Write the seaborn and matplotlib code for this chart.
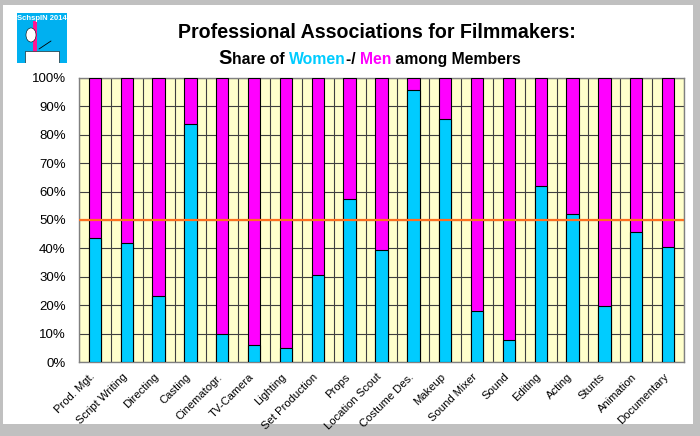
import numpy as np
import pandas as pd
import matplotlib
matplotlib.use("Agg")
import matplotlib.pyplot as plt
import matplotlib.transforms as mtransforms
from matplotlib.patches import Rectangle, Ellipse
import seaborn as sns

# share of women among members (%)
categories = ["Prod. Mgt.", "Script Writing", "Directing", "Casting", "Cinematogr.",
              "TV-Camera", "Lighting", "Set Production", "Props", "Location Scout",
              "Costume Des.", "Makeup", "Sound Mixer", "Sound", "Editing",
              "Acting", "Stunts", "Animation", "Documentary"]
women = [43.5, 41.8, 23.2, 83.9, 10.0, 6.1, 5.1, 30.7, 57.3, 39.5,
         95.6, 85.5, 18.0, 7.9, 61.9, 52.1, 19.6, 45.9, 40.6]
men = [100 - w for w in women]
ytick_values = list(range(0, 101, 10))
ytick_labels = [f"{v}%" for v in ytick_values]

df = pd.DataFrame({"job": categories, "women": women, "men": men})
df["total"] = df["women"] + df["men"]

sns.set_style("white")
plt.rcParams["font.family"] = ["Liberation Sans", "DejaVu Sans"]
plt.rcParams["text.color"] = "black"
plt.rcParams["xtick.color"] = "black"
plt.rcParams["ytick.color"] = "black"

W, H = 700, 436
fig = plt.figure(figsize=(7, 4.36), dpi=100, facecolor="#c0c0c0")

# white panel
fig.patches.append(Rectangle((3 / W, 12 / H), 690 / W, 419 / H, transform=fig.transFigure,
                             facecolor="white", edgecolor="none", zorder=-10))

ax = fig.add_axes([79 / W, 74 / H, 605 / W, 284 / H])
ax.set_facecolor("#ffffcc")

blue = "#00ccff"
pink = "#ff00ff"
sns.barplot(data=df, x="job", y="total", color=pink, width=0.39, saturation=1,
            edgecolor="black", linewidth=0.8, ax=ax, zorder=3)
sns.barplot(data=df, x="job", y="women", color=blue, width=0.39, saturation=1,
            edgecolor="black", linewidth=0.8, ax=ax, zorder=4)

ax.axhline(50, color="#ff7020", linewidth=1.6, zorder=5)

n = len(categories)
ax.set_xlim(-0.5, n - 0.5)
ax.set_ylim(0, 100)
ax.set_xlabel("")
ax.set_ylabel("")

ax.set_yticks(ytick_values)
ax.set_yticklabels(ytick_labels, fontsize=9.5)
ax.set_xticks(range(n))
ax.set_xticks(np.arange(-0.5, n, 1), minor=True)
ax.set_xticklabels(categories, fontsize=8.1, rotation=45, ha="right", va="top",
                   rotation_mode="anchor")
ax.tick_params(axis="x", which="major", length=0, pad=7)
ax.tick_params(axis="x", which="minor", length=4, width=0.8, color="#555555", direction="out")
ax.tick_params(axis="y", length=4, width=0.8, color="#555555", direction="out", pad=5.5)
offset = mtransforms.ScaledTranslation(-5 / 100, 0, fig.dpi_scale_trans)
for lab in ax.get_xticklabels():
    lab.set_transform(lab.get_transform() + offset)

ax.grid(True, axis="y", color="#404040", linewidth=0.8, zorder=1)
ax.grid(True, axis="x", which="minor", color="#404040", linewidth=0.8, zorder=1)
ax.grid(False, axis="x", which="major")
ax.set_axisbelow(True)
for s in ax.spines.values():
    s.set_color("#808080")
    s.set_linewidth(1)
    s.set_visible(True)

# title
fig.text(377 / W, 1 - 32 / H, "Professional Associations for Filmmakers:",
         ha="center", va="center", fontsize=14.1, fontweight="bold", color="black")

# subtitle in colored pieces
parts = [("S", 14.5, "black"), ("hare of ", 11.3, "black"), ("Women", 11.3, blue),
         ("-/ ", 11.3, "black"), ("Men", 11.3, pink), (" among Members", 11.3, "black")]
texts = []
for s, fs, c in parts:
    texts.append(fig.text(0, 1 - 64 / H, s, ha="left", va="baseline", fontsize=fs,
                          fontweight="bold", color=c))
fig.canvas.draw()
renderer = fig.canvas.get_renderer()
widths = [t.get_window_extent(renderer).width for t in texts]
x = 370 - sum(widths) / 2
for t, w in zip(texts, widths):
    t.set_x(x / W)
    x += w

# logo
lax = fig.add_axes([17 / W, 1 - 63 / H, 50 / W, 50 / H])
lax.set_xlim(0, 50)
lax.set_ylim(0, 50)
lax.axis("off")
lax.add_patch(Rectangle((0, 0), 50, 50, facecolor="#00b0f0", edgecolor="none"))
lax.add_patch(Rectangle((16, 8), 4, 34, facecolor="#ff1493", edgecolor="none"))
lax.add_patch(Rectangle((8, 0), 34, 12, facecolor="white", edgecolor="black", linewidth=0.4))
lax.add_patch(Ellipse((14, 28), 10, 14, facecolor="white", edgecolor="black", linewidth=0.4))
lax.plot([22, 34], [14, 22], color="black", linewidth=0.6)
lax.text(25, 45, "SchspIN 2014", ha="center", va="center", fontsize=5.5,
         color="white", fontweight="bold")

fig.savefig("out.png", dpi=100, facecolor=fig.get_facecolor())
